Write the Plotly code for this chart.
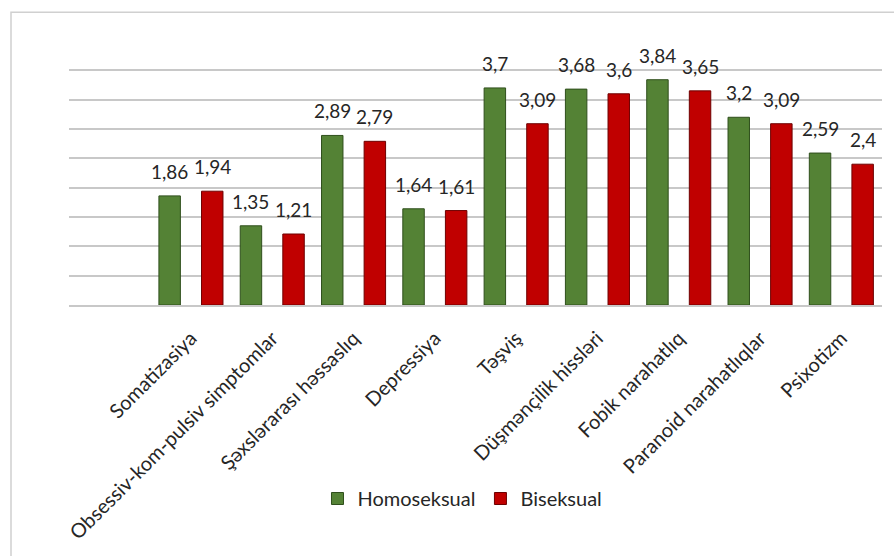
import plotly.graph_objects as go

categories = ["Somatizasiya", "Obsessiv-kom-pulsiv simptomlar", "Şəxslərarası həssaslıq",
              "Depressiya", "Təşviş", "Düşmənçilik hissləri", "Fobik narahatlıq",
              "Paranoid narahatlıqlar", "Psixotizm"]
homoseksual = [1.86, 1.35, 2.89, 1.64, 3.70, 3.68, 3.84, 3.20, 2.59]
biseksual = [1.94, 1.21, 2.79, 1.61, 3.09, 3.60, 3.65, 3.09, 2.40]
series_names = ["Homoseksual", "Biseksual"]

FONT = "Lato"
TXT = "#262626"
BAR_W = 0.264
OFFSETS = [-0.394, 0.13]
COLORS = ["#548235", "#c00000"]
LINES = ["#2f4f1c", "#6e0000"]

W, H = 894, 556
ML, MR, MT, MB = 69, 12, 41, 249
PLOT_W = W - ML - MR
PLOT_H = H - MT - MB
X_RANGE = [-1.5, 8.5]
PX_PER_CAT = PLOT_W / (X_RANGE[1] - X_RANGE[0])

fig = go.Figure()
annotations = []
for name, vals, off, col, lc in zip(series_names, [homoseksual, biseksual], OFFSETS, COLORS, LINES):
    fig.add_trace(go.Bar(
        x=categories, y=vals, name=name,
        offset=off, width=BAR_W,
        marker=dict(color=col, line=dict(color=lc, width=1)),
    ))
    for c, v in zip(categories, vals):
        annotations.append(dict(
            x=c, y=v, xref="x", yref="y",
            text=f"{v:.2f}".rstrip("0").rstrip(".").replace(".", ","),
            showarrow=False, yanchor="bottom", xanchor="center",
            xshift=(off + BAR_W / 2) * PX_PER_CAT, yshift=11,
            font=dict(family=FONT, size=19, color=TXT),
        ))

fig.update_layout(
    width=W, height=H,
    margin=dict(l=ML, r=MR, t=MT, b=MB),
    paper_bgcolor="white", plot_bgcolor="white",
    separators=",.",
    showlegend=True,
    legend=dict(orientation="h", x=0.484, xanchor="center", y=-0.733, yanchor="middle",
                font=dict(family=FONT, size=20, color=TXT), itemclick=False,
                traceorder="normal"),
    xaxis=dict(type="category", range=X_RANGE, tickangle=-45,
               tickfont=dict(family=FONT, size=20, color=TXT),
               showline=True, linecolor="#c8c8c8", linewidth=1.5, ticks="",
               ticklabelstandoff=12, showgrid=False),
    yaxis=dict(range=[0, 4.5], dtick=0.5, showticklabels=False, showgrid=True,
               gridcolor="#c8c8c8", gridwidth=1.5, zeroline=False, ticks=""),
    annotations=annotations,
    shapes=[dict(type="rect", xref="paper", yref="paper",
                 x0=(11 - ML) / PLOT_W, x1=1.03, y0=-1.0, y1=(H - MB - 12) / PLOT_H,
                 line=dict(color="#d0d0d0", width=1.5), fillcolor="rgba(0,0,0,0)",
                 layer="below")],
)

fig.write_html("out.html")
